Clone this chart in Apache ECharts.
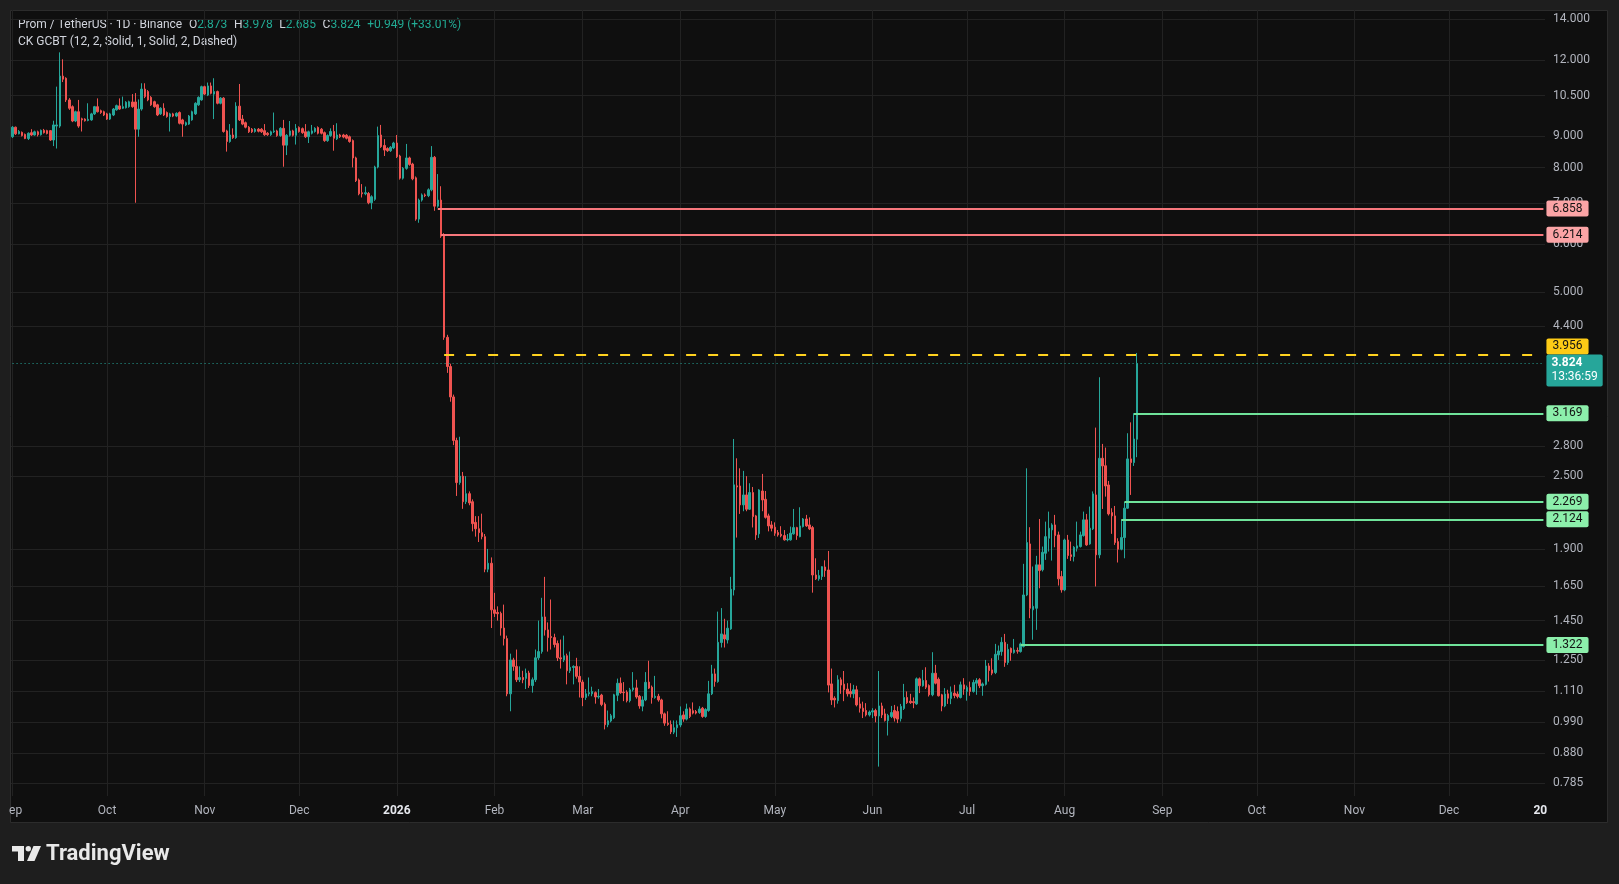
<!DOCTYPE html>
<html><head><meta charset="utf-8">
<script src="https://cdn.jsdelivr.net/npm/echarts@6/dist/echarts.min.js"></script>
<style>html,body{margin:0;padding:0;background:#1e1e1e;}#c{width:1619px;height:884px;}</style>
</head><body><div id="c"></div>
<script>
// candles per month: [open, close, low, high]
const sep2025 = [
[8.99,9.32,8.95,9.36],[9.32,9.09,9.05,9.34],[9.09,9.17,9.07,9.22],[9.14,9.03,9.00,9.17],[9.07,8.93,8.91,9.10],
[8.93,9.11,8.88,9.14],[9.13,9.05,9.02,9.25],[9.05,9.16,9.03,9.20],[9.16,9.06,9.00,9.20],[9.06,9.21,9.03,9.24],
[9.21,9.13,9.10,9.26],[9.20,9.10,9.07,9.23],[9.20,8.88,8.85,9.22],[8.88,9.40,8.68,9.55],[9.36,9.40,8.60,10.86],
[9.36,11.30,9.30,12.36],[11.30,11.17,11.05,12.04],[11.21,10.33,10.25,11.25],[10.33,10.01,9.95,10.40],[10.07,9.54,9.50,10.12],
[9.54,9.88,9.50,9.92],[9.88,9.36,9.30,10.33],[9.62,9.58,9.17,9.66],[9.61,9.55,9.52,9.64],[9.56,9.60,9.53,10.20],
[9.58,9.80,9.55,9.84],[9.80,10.07,9.76,10.10],[10.07,9.88,9.85,10.39],[9.92,9.85,9.80,9.96],[9.88,9.76,9.72,9.92]
];
const oct2025 = [
[9.80,9.61,9.58,9.84],[9.61,9.80,9.58,9.84],[9.76,9.98,9.72,10.02],[9.95,10.11,9.92,10.15],[10.10,9.98,9.95,10.39],
[10.01,10.07,9.98,10.46],[10.03,10.24,10.00,10.28],[10.07,10.26,10.03,10.30],[10.25,10.07,10.03,10.56],[10.25,9.25,7.01,10.60],
[9.25,9.98,8.99,10.35],[9.98,10.76,9.92,11.00],[10.76,10.46,10.40,11.00],[10.66,10.33,10.28,10.72],[10.43,10.14,10.10,10.48],
[10.26,10.07,10.03,10.30],[10.14,9.76,9.72,10.18],[9.80,10.01,9.76,10.05],[10.01,9.76,9.72,10.20],[9.85,9.70,9.66,9.89],
[9.70,9.80,9.17,9.84],[9.80,9.72,9.68,9.84],[9.72,9.82,9.68,9.86],[9.85,9.46,9.42,9.89],[9.58,9.43,8.99,9.62],
[9.40,9.48,9.36,9.52],[9.43,9.72,9.40,9.76],[9.58,9.88,9.55,9.92],[9.80,10.20,9.76,10.24],[10.14,10.43,10.10,10.47],
[10.33,10.86,10.30,10.90]
];
const nov2025 = [
[10.86,10.56,10.52,10.90],[10.52,10.89,10.48,11.03],[10.89,10.59,10.55,11.03],[10.56,10.66,9.61,11.21],[10.66,10.20,10.16,10.70],
[10.20,10.40,10.16,10.44],[10.40,9.17,9.13,10.44],[9.19,8.83,8.50,9.23],[8.83,9.05,8.79,9.43],[9.05,8.96,8.92,9.28],
[8.96,10.09,8.92,10.24],[10.09,9.58,9.54,10.97],[9.61,9.43,9.39,9.76],[9.48,9.32,9.28,9.52],[9.32,9.16,9.12,9.36],
[9.25,9.16,9.12,9.29],[9.17,9.25,9.13,9.29],[9.25,9.18,9.14,9.29],[9.25,9.16,9.12,9.29],[9.20,9.06,9.02,9.43],
[9.11,9.06,9.02,9.15],[9.06,9.16,9.02,9.20],[9.16,9.19,9.12,9.85],[9.19,9.03,8.99,9.23],[9.03,9.28,8.99,9.32],
[9.28,8.71,8.03,9.58],[8.71,9.04,8.39,9.08],[9.04,9.19,9.00,9.54],[9.19,9.04,9.00,9.23],[9.04,9.28,8.73,9.43]
];
const dec2025 = [
[9.31,9.17,9.13,9.35],[9.27,9.13,9.09,9.31],[9.16,8.99,8.95,9.43],[8.99,9.16,8.78,9.20],[9.11,9.19,9.07,9.40],
[9.17,9.28,9.13,9.32],[9.31,9.11,9.07,9.35],[9.25,9.11,9.07,9.29],[9.13,8.86,8.82,9.17],[8.86,9.03,8.82,9.07],
[9.03,9.17,8.99,9.28],[9.17,8.94,8.53,9.40],[8.92,9.05,8.88,9.46],[9.05,8.99,8.95,9.09],[9.05,8.98,8.94,9.09],
[9.04,8.94,8.90,9.08],[8.99,8.83,8.79,9.03],[8.86,8.30,8.01,8.90],[8.30,7.62,7.58,8.34],[7.64,7.25,7.21,7.68],
[7.28,7.25,7.15,7.52],[7.25,7.28,7.21,7.45],[7.26,7.01,6.97,7.30],[7.01,7.17,6.84,7.21],[7.10,8.02,7.06,8.06],
[8.02,9.03,7.98,9.34],[9.05,8.66,8.62,9.40],[8.70,8.55,8.36,8.91],[8.60,8.53,8.49,8.64],[8.53,8.64,8.49,8.68],
[8.62,8.78,8.58,8.82]
];
const jan2026 = [
[8.78,8.34,8.30,9.05],[8.36,7.69,7.65,8.40],[7.69,7.98,7.65,8.02],[7.98,8.30,7.94,8.75],[8.30,8.10,8.06,8.34],
[8.11,7.67,7.63,8.15],[7.70,6.59,6.55,7.74],[6.59,7.08,6.50,7.12],[7.08,7.22,7.04,7.26],[7.22,7.20,7.16,7.26],
[7.20,7.36,7.16,7.40],[7.36,8.32,7.32,8.68],[8.32,6.92,6.80,8.36],[6.92,7.08,6.88,7.81],[7.08,6.18,6.14,7.46],
[6.21,4.22,4.18,6.25],[4.22,3.78,3.69,4.26],[3.78,3.37,3.31,3.82],[3.37,2.86,2.81,3.40],[2.86,2.44,2.32,2.89],
[2.44,2.50,2.42,2.90],[2.50,2.27,2.21,2.54],[2.27,2.34,2.25,2.50],[2.34,2.26,2.24,2.36],[2.27,2.09,2.03,2.29],
[2.10,2.05,1.99,2.15],[2.05,2.02,1.95,2.15],[2.02,1.99,1.97,2.17],[1.99,1.76,1.74,2.01],[1.76,1.80,1.74,1.90],
[1.80,1.51,1.41,1.84]
];
const feb2026 = [
[1.51,1.49,1.47,1.61],[1.495,1.488,1.45,1.53],[1.49,1.41,1.37,1.50],[1.41,1.355,1.32,1.54],[1.355,1.10,1.09,1.37],
[1.10,1.25,1.03,1.28],[1.25,1.22,1.20,1.26],[1.22,1.16,1.15,1.30],[1.16,1.17,1.15,1.22],[1.17,1.16,1.145,1.20],
[1.166,1.189,1.12,1.21],[1.19,1.135,1.125,1.20],[1.135,1.16,1.105,1.17],[1.16,1.26,1.15,1.30],[1.26,1.29,1.25,1.45],
[1.29,1.47,1.28,1.58],[1.47,1.40,1.37,1.71],[1.40,1.36,1.29,1.44],[1.365,1.36,1.30,1.57],[1.36,1.325,1.31,1.38],
[1.33,1.26,1.245,1.345],[1.26,1.255,1.21,1.35],[1.25,1.27,1.24,1.37],[1.27,1.20,1.14,1.28],[1.20,1.216,1.19,1.29],
[1.215,1.22,1.14,1.225],[1.22,1.175,1.165,1.26],[1.175,1.15,1.085,1.22]
];
const mar2026 = [
[1.15,1.085,1.05,1.16],[1.085,1.10,1.075,1.12],[1.10,1.105,1.09,1.17],[1.10,1.11,1.09,1.13],[1.105,1.087,1.06,1.11],
[1.087,1.09,1.08,1.12],[1.095,1.057,1.05,1.10],[1.058,0.979,0.962,1.065],[0.979,0.994,0.97,1.033],[0.993,1.013,0.988,1.02],
[1.005,1.096,1.0,1.10],[1.094,1.145,1.07,1.165],[1.145,1.105,1.10,1.17],[1.107,1.105,1.07,1.15],[1.107,1.072,1.065,1.115],
[1.072,1.117,1.065,1.125],[1.117,1.125,1.11,1.194],[1.125,1.087,1.08,1.16],[1.09,1.051,1.04,1.095],[1.05,1.075,1.03,1.09],
[1.075,1.149,1.07,1.194],[1.15,1.124,1.12,1.246],[1.128,1.085,1.06,1.135],[1.085,1.09,1.08,1.177],[1.09,1.075,1.068,1.10],
[1.075,1.02,1.003,1.08],[1.02,0.985,0.975,1.025],[0.985,0.98,0.975,1.03],[0.98,0.953,0.945,0.995],[0.952,0.968,0.945,0.995],
[0.968,0.979,0.935,0.995]
];
const apr2026 = [
[0.978,1.013,0.97,1.049],[1.016,1.0,0.99,1.03],[1.0,1.039,0.995,1.06],[1.039,1.01,1.004,1.045],[1.032,1.023,1.018,1.065],
[1.029,1.023,1.018,1.035],[1.025,1.039,1.02,1.05],[1.042,1.010,1.005,1.047],[1.010,1.037,1.005,1.042],[1.033,1.10,1.028,1.155],
[1.10,1.186,1.095,1.227],[1.186,1.152,1.13,1.21],[1.152,1.336,1.147,1.50],[1.335,1.379,1.31,1.52],[1.374,1.353,1.31,1.46],
[1.348,1.409,1.33,1.45],[1.405,1.632,1.40,1.71],[1.628,2.419,1.594,2.876],[2.41,2.40,1.983,2.674],[2.409,2.243,2.168,2.575],
[2.243,2.329,2.19,2.55],[2.329,2.207,2.19,2.50],[2.207,2.35,2.20,2.434],[2.35,2.146,2.06,2.40],[2.152,2.003,1.966,2.16],
[2.011,2.373,1.98,2.38],[2.364,2.285,2.19,2.521],[2.291,2.14,2.13,2.364],[2.152,2.072,2.03,2.17],[2.08,2.054,2.03,2.11]
];
const may2026 = [
[2.062,2.016,1.996,2.10],[2.021,2.003,1.99,2.04],[2.008,1.996,1.985,2.07],[1.998,1.966,1.96,2.04],[1.966,1.972,1.955,2.01],
[1.966,2.016,1.96,2.067],[2.011,2.059,2.005,2.209],[2.059,1.998,1.966,2.065],[1.99,2.072,1.985,2.223],[2.067,2.127,2.06,2.135],
[2.127,2.072,2.065,2.16],[2.08,2.049,2.04,2.14],[2.059,1.722,1.611,2.072],[1.722,1.697,1.69,1.834],[1.697,1.718,1.685,1.755],
[1.712,1.777,1.69,1.78],[1.775,1.751,1.71,1.82],[1.755,1.137,1.106,1.885],[1.142,1.075,1.055,1.21],[1.082,1.075,1.045,1.09],
[1.072,1.16,1.06,1.18],[1.16,1.137,1.10,1.17],[1.141,1.117,1.07,1.199],[1.12,1.10,1.089,1.145],[1.11,1.10,1.085,1.145],
[1.10,1.117,1.082,1.138],[1.117,1.055,1.049,1.134],[1.059,1.042,1.025,1.086],[1.042,1.029,1.004,1.068],[1.033,1.016,1.010,1.062],
[1.016,1.027,1.010,1.033]
];
const jun2026 = [
[1.027,1.032,1.004,1.042],[1.033,1.012,0.988,1.04],[1.012,1.051,0.836,1.199],[1.051,1.016,1.004,1.064],[1.020,0.995,0.991,1.04],
[0.994,1.014,0.94,1.02],[1.010,1.025,1.004,1.051],[1.033,1.004,0.991,1.055],[1.029,1.000,0.985,1.049],[1.002,1.049,0.991,1.059],
[1.041,1.085,1.035,1.142],[1.085,1.064,1.059,1.11],[1.07,1.064,1.059,1.10],[1.068,1.064,1.042,1.085],[1.059,1.164,1.055,1.17],
[1.164,1.134,1.103,1.17],[1.134,1.157,1.13,1.204],[1.157,1.128,1.12,1.216],[1.135,1.096,1.089,1.14],[1.096,1.189,1.09,1.287],
[1.189,1.145,1.14,1.227],[1.162,1.092,1.089,1.17],[1.096,1.051,1.03,1.10],[1.051,1.099,1.046,1.124],[1.10,1.082,1.059,1.117],
[1.081,1.107,1.058,1.131],[1.103,1.093,1.082,1.138],[1.099,1.089,1.081,1.11],[1.085,1.138,1.081,1.152],[1.138,1.12,1.096,1.167]
];
const jul2026 = [
[1.11,1.127,1.072,1.135],[1.127,1.11,1.092,1.152],[1.11,1.148,1.105,1.16],[1.145,1.157,1.096,1.167],[1.16,1.134,1.124,1.167],
[1.134,1.142,1.092,1.148],[1.14,1.222,1.135,1.25],[1.222,1.201,1.152,1.235],[1.204,1.189,1.18,1.258],[1.192,1.277,1.185,1.328],
[1.274,1.293,1.25,1.32],[1.29,1.336,1.27,1.362],[1.336,1.238,1.218,1.379],[1.238,1.301,1.227,1.328],[1.306,1.285,1.246,1.31],
[1.285,1.298,1.28,1.353],[1.295,1.292,1.28,1.31],[1.29,1.328,1.285,1.335],[1.315,1.597,1.31,1.796],[1.597,1.946,1.59,2.575],
[1.936,1.519,1.463,2.062],[1.51,1.53,1.349,1.778],[1.519,1.789,1.40,1.851],[1.789,1.751,1.638,2.127],[1.756,1.876,1.745,1.917],
[1.869,1.99,1.823,2.106],[1.978,2.054,1.881,2.187],[2.041,2.08,1.818,2.093],[2.08,1.998,1.912,2.16],[2.003,1.697,1.655,2.028],
[1.712,1.628,1.611,1.749]
];
const aug2026 = [
[1.628,1.965,1.62,1.975],[1.965,1.853,1.83,2.003],[1.858,1.846,1.816,1.953],[1.846,1.912,1.812,1.92],[1.905,1.922,1.881,2.106],
[1.917,2.003,1.91,2.028],[1.998,2.12,1.99,2.187],[2.12,1.929,1.922,2.168],[1.936,2.054,1.93,2.229],[2.049,2.338,2.04,2.36],
[2.329,1.858,1.649,3.002],[1.858,2.674,1.834,3.63],[2.674,2.598,2.209,2.823],[2.60,2.409,2.314,2.784],[2.418,2.168,2.155,2.455],
[2.179,2.152,2.011,2.215],[2.152,1.946,1.929,2.234],[1.953,1.898,1.805,1.978],[1.898,1.983,1.89,2.124],[1.983,2.215,1.834,2.269],
[2.215,2.668,2.21,2.939],[2.668,2.631,2.329,3.062],[2.631,2.876,2.598,3.169],[2.873,3.824,2.685,3.978]
];

const yTickValues = [14, 12, 10.5, 9, 8, 7, 6, 5, 4.4, 2.8, 2.5, 1.9, 1.65, 1.45, 1.25, 1.11, 0.99, 0.88, 0.785];
const xTickDates = ['2025-09-01','2025-10-01','2025-11-01','2025-12-01','2026-01-01','2026-02-01','2026-03-01','2026-04-01','2026-05-01','2026-06-01','2026-07-01','2026-08-01','2026-09-01','2026-10-01','2026-11-01','2026-12-01','2026-12-30'];
const xTickLabels = ['ep','Oct','Nov','Dec','2026','Feb','Mar','Apr','May','Jun','Jul','Aug','Sep','Oct','Nov','Dec','20'];

const resistanceLevels = [6.858, 6.214];
const resistanceStarts = ['2026-01-14', '2026-01-15'];
const supportLevels = [3.169, 2.269, 2.124, 1.322];
const supportStarts = ['2026-08-23', '2026-08-20', '2026-08-19', '2026-07-18'];
const highLevel = 3.956, highStart = '2026-01-16';
const lastPrice = 3.824, lastCountdown = '13:36:59';
const header = {symbol: 'Prom / TetherUS · 1D · Binance', o: '2.873', h: '3.978', l: '2.685', c: '3.824', chg: '+0.949 (+33.01%)'};
const indicatorName = 'CK GCBT (12, 2, Solid, 1, Solid, 2, Dashed)';

// categories: daily dates
const dates = [];
const t0 = Date.UTC(2025, 8, 1);
for (let i = 0; i < 487; i++) dates.push(new Date(t0 + i * 86400000).toISOString().slice(0, 10));
const candles = [].concat(sep2025, oct2025, nov2025, dec2025, jan2026, feb2026, mar2026, apr2026, may2026, jun2026, jul2026, aug2026);
const lastDate = dates[dates.length - 1];
const tickMap = {};
xTickDates.forEach((d, i) => { tickMap[d] = xTickLabels[i]; });

const FONT = 'Roboto';
const UP = '#26a69a', DOWN = '#ef5350';

function level(value, start, lineStyle, bg, fg, extraLabel) {
  return [
    {coord: [start, value], lineStyle: lineStyle,
     label: Object.assign({show: true, position: 'end', distance: 3, formatter: value.toFixed(3),
       backgroundColor: bg, color: fg, fontSize: 12, fontFamily: FONT, padding: [2, 6, 2, 6], borderRadius: 2}, extraLabel || {})},
    {coord: [lastDate, value]}
  ];
}
const markData = [];
resistanceLevels.forEach((v, i) => markData.push(level(v, resistanceStarts[i], {color: '#f7777c', width: 2, type: 'solid'}, '#fba4a6', '#131313')));
supportLevels.forEach((v, i) => markData.push(level(v, supportStarts[i], {color: '#6fe39a', width: 2, type: 'solid'}, '#8cefab', '#131313')));
markData.push(level(highLevel, highStart, {color: '#ffd21f', width: 2, type: [10, 12]}, '#fdcb16', '#131313', {offset: [0, -8]}));
markData.push([
  {coord: [dates[0], lastPrice], lineStyle: {color: UP, width: 1, type: [1, 3]},
   label: {show: true, position: 'end', distance: 3, offset: [0, 7],
     formatter: '{a|' + lastPrice.toFixed(3) + '}\n{b|' + lastCountdown + '}',
     backgroundColor: UP, padding: [2, 5, 2, 5], borderRadius: 2,
     rich: {a: {color: '#ffffff', fontSize: 12, fontWeight: 'bold', fontFamily: FONT, lineHeight: 14},
            b: {color: '#ffffff', fontSize: 12, fontFamily: FONT, lineHeight: 14}}}},
  {coord: [lastDate, lastPrice]}
]);

const chart = echarts.init(document.getElementById('c'), null, {renderer: 'canvas'});
chart.setOption({
  animation: false,
  backgroundColor: '#1e1e1e',
  grid: {left: 11, right: 74, top: 10, bottom: 88, containLabel: false},
  xAxis: {
    type: 'category', data: dates, boundaryGap: true,
    axisLine: {show: false}, axisTick: {show: false},
    axisLabel: {
      interval: (i, v) => v in tickMap, margin: 9,
      formatter: (v) => { const t = tickMap[v]; if (t === 'ep') return '{e|ep}'; return (t === '2026' || t === '20') ? '{s|' + t + '}' : '{n|' + t + '}'; },
      rich: {n: {color: '#b2b5be', fontSize: 12, fontFamily: FONT},
             s: {color: '#e6e8ee', fontSize: 12, fontFamily: FONT, fontWeight: 'bold'},
             e: {color: '#b2b5be', fontSize: 12, fontFamily: FONT, padding: [0, 0, 0, 6]}}
    },
    splitLine: {show: true, alignWithLabel: true, interval: (i, v) => (v in tickMap) && tickMap[v] !== '20', lineStyle: {color: '#222222', width: 1}}
  },
  yAxis: {
    type: 'log', logBase: 10, min: 0.7483, max: 14.50, position: 'right', scale: true,
    axisLine: {show: false},
    axisTick: {show: false, customValues: yTickValues},
    axisLabel: {customValues: yTickValues, formatter: (v) => Number(v).toFixed(3), color: '#b2b5be', fontSize: 12, fontFamily: FONT, margin: 8},
    splitLine: {show: true, lineStyle: {color: '#222222', width: 1}}
  },
  series: [{
    type: 'candlestick', data: candles, barWidth: 2,
    itemStyle: {color: UP, color0: DOWN, borderColor: UP, borderColor0: DOWN, borderWidth: 1},
    markLine: {silent: true, symbol: ['none', 'none'], animation: false, data: markData}
  }],
  graphic: {elements: [
    {type: 'rect', z: -10, silent: true, shape: {x: 10.5, y: 10.5, width: 1597, height: 812}, style: {fill: '#0f0f0f', stroke: '#2c2c2c', lineWidth: 1}},
    {type: 'text', x: 18, y: 25, silent: true, style: {
      text: '{n|' + header.symbol + '}  {n|O}{v|' + header.o + '}  {n|H}{v|' + header.h + '}  {n|L}{v|' + header.l + '}  {n|C}{v|' + header.c + '}  {v|' + header.chg + '}',
      verticalAlign: 'middle',
      rich: {n: {fill: '#d1d4dc', fontSize: 12, fontFamily: FONT}, v: {fill: '#22ab94', fontSize: 12, fontFamily: FONT}}}},
    {type: 'text', x: 18, y: 42, silent: true, style: {text: indicatorName, verticalAlign: 'middle', fill: '#d1d4dc', fontSize: 12, fontFamily: FONT}},
    {type: 'polygon', silent: true, shape: {points: [[12, 846], [24, 846], [24, 861], [18, 861], [18, 851.5], [12, 851.5]]}, style: {fill: '#e9e9e9'}},
    {type: 'circle', silent: true, shape: {cx: 28.3, cy: 848.7, r: 2.7}, style: {fill: '#e9e9e9'}},
    {type: 'polygon', silent: true, shape: {points: [[33.5, 846], [41, 846], [34.5, 861], [27, 861]]}, style: {fill: '#e9e9e9'}},
    {type: 'text', x: 46, y: 854, silent: true, style: {text: 'TradingView', verticalAlign: 'middle', fill: '#e9e9e9', fontSize: 22, fontWeight: 'bold', fontFamily: FONT}}
  ]}
});
</script></body></html>
